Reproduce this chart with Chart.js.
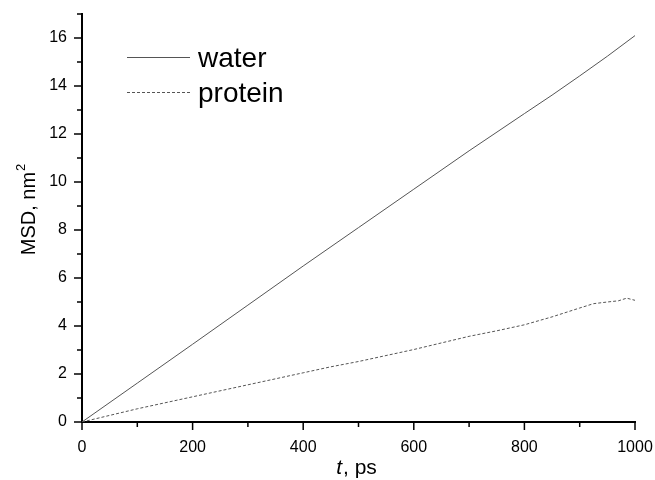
<!DOCTYPE html>
<html>
<head>
<meta charset="utf-8">
<script src="https://cdn.jsdelivr.net/npm/chart.js@4.4.1/dist/chart.umd.min.js"></script>
<style>
  html, body { margin: 0; padding: 0; background: #fff; }
  #box { width: 655px; height: 480px; position: relative; }
</style>
</head>
<body>
<div id="box"><canvas id="msdChart"></canvas></div>
<script>
// time points, ps
var waterTime = [0, 100, 200, 300, 400, 500, 600, 700, 800, 850, 900, 950, 1000];
var waterMSD  = [0, 1.62, 3.24, 4.87, 6.5, 8.1, 9.7, 11.3, 12.85, 13.62, 14.42, 15.24, 16.1];

var proteinTime = [0, 100, 200, 300, 400, 450, 500, 600, 700, 750, 800, 850, 900, 925, 950, 970, 985, 1000];
var proteinMSD  = [0, 0.55, 1.05, 1.55, 2.05, 2.3, 2.52, 3.02, 3.57, 3.8, 4.05, 4.38, 4.75, 4.93, 5.0, 5.05, 5.16, 5.07];

var xMajor = [0, 200, 400, 600, 800, 1000];
var yMajor = [0, 2, 4, 6, 8, 10, 12, 14, 16];

var FONT = '"Liberation Sans", Arial, sans-serif';

function toPoints(xs, ys) {
    var pts = [];
    for (var i = 0; i < xs.length; i++) pts.push({ x: xs[i], y: ys[i] });
    return pts;
}

// tick marks (major long, minor short), legend and axis titles
var decorPlugin = {
    id: 'decor',
    afterDraw: function (chart) {
        var ctx = chart.ctx;
        var xs = chart.scales.x, ys = chart.scales.y;
        var area = chart.chartArea;
        ctx.save();
        ctx.strokeStyle = '#000';
        ctx.lineWidth = 1.5;
        for (var v = 0; v <= 1000; v += 100) {
            var px = xs.getPixelForValue(v);
            var len = xMajor.indexOf(v) >= 0 ? 8 : 5;
            ctx.beginPath();
            ctx.moveTo(px, area.bottom);
            ctx.lineTo(px, area.bottom + len);
            ctx.stroke();
        }
        for (var w = 0; w <= 17; w++) {
            var py = ys.getPixelForValue(w);
            var l2 = yMajor.indexOf(w) >= 0 ? 8 : 5;
            ctx.beginPath();
            ctx.moveTo(area.left, py);
            ctx.lineTo(area.left - l2, py);
            ctx.stroke();
        }

        // legend
        var rows = [57, 92];
        chart.data.datasets.forEach(function (ds, i) {
            ctx.strokeStyle = ds.borderColor;
            ctx.lineWidth = 1;
            ctx.setLineDash(ds.borderDash || []);
            ctx.beginPath();
            ctx.moveTo(127, rows[i] + 0.5);
            ctx.lineTo(190, rows[i] + 0.5);
            ctx.stroke();
            ctx.setLineDash([]);
            ctx.fillStyle = '#000';
            ctx.font = '28px ' + FONT;
            ctx.textBaseline = 'alphabetic';
            ctx.textAlign = 'left';
            ctx.fillText(ds.label, 198, rows[i] + 10);
        });

        // x title: italic t
        ctx.fillStyle = '#000';
        ctx.font = 'italic 21px ' + FONT;
        var tW = ctx.measureText('t').width;
        ctx.font = '21px ' + FONT;
        var rest = ', ps';
        var rW = ctx.measureText(rest).width;
        var sx = 356 - (tW + rW) / 2;
        ctx.font = 'italic 21px ' + FONT;
        ctx.fillText('t', sx, 474);
        ctx.font = '21px ' + FONT;
        ctx.fillText(rest, sx + tW + 1, 474);

        // y title with superscript
        ctx.translate(35, 210);
        ctx.rotate(-Math.PI / 2);
        ctx.font = '20px ' + FONT;
        var main = 'MSD, nm';
        var mW = ctx.measureText(main).width;
        ctx.font = '13px ' + FONT;
        var sW = ctx.measureText('2').width;
        var start = -(mW + sW) / 2;
        ctx.font = '20px ' + FONT;
        ctx.fillText(main, start, 0);
        ctx.font = '13px ' + FONT;
        ctx.fillText('2', start + mW + 1, -10);
        ctx.restore();
    }
};

var ctx = document.getElementById('msdChart').getContext('2d');
new Chart(ctx, {
    type: 'line',
    data: {
        datasets: [{
            label: 'water',
            data: toPoints(waterTime, waterMSD),
            borderColor: '#555',
            borderWidth: 1,
            pointRadius: 0,
            tension: 0
        }, {
            label: 'protein',
            data: toPoints(proteinTime, proteinMSD),
            borderColor: '#555',
            borderWidth: 1,
            borderDash: [3, 2],
            pointRadius: 0,
            tension: 0
        }]
    },
    options: {
        responsive: true,
        maintainAspectRatio: false,
        animation: false,
        layout: { padding: { top: 14, right: 20, left: 0, bottom: 0 } },
        plugins: {
            legend: { display: false },
            tooltip: { enabled: false }
        },
        scales: {
            x: {
                type: 'linear',
                min: 0,
                max: 1000,
                afterFit: function (s) {
                    s.height = 58;
                    s.paddingLeft = 0;
                    s.paddingRight = 0;
                },
                grid: { display: false },
                border: { display: true, color: '#000', width: 2 },
                ticks: {
                    stepSize: 100,
                    autoSkip: false,
                    maxRotation: 0,
                    padding: 8,
                    color: '#000',
                    font: { family: FONT, size: 16 },
                    callback: function (v) { return xMajor.indexOf(v) >= 0 ? v : ''; }
                }
            },
            y: {
                min: 0,
                max: 17,
                afterFit: function (s) {
                    s.width = 82;
                    s.paddingTop = 0;
                    s.paddingBottom = 0;
                },
                grid: { display: false },
                border: { display: true, color: '#000', width: 2 },
                ticks: {
                    stepSize: 1,
                    autoSkip: false,
                    padding: 7,
                    color: '#000',
                    font: { family: FONT, size: 16 },
                    callback: function (v) { return yMajor.indexOf(v) >= 0 ? v : ''; }
                }
            }
        }
    },
    plugins: [decorPlugin]
});
</script>
</body>
</html>
